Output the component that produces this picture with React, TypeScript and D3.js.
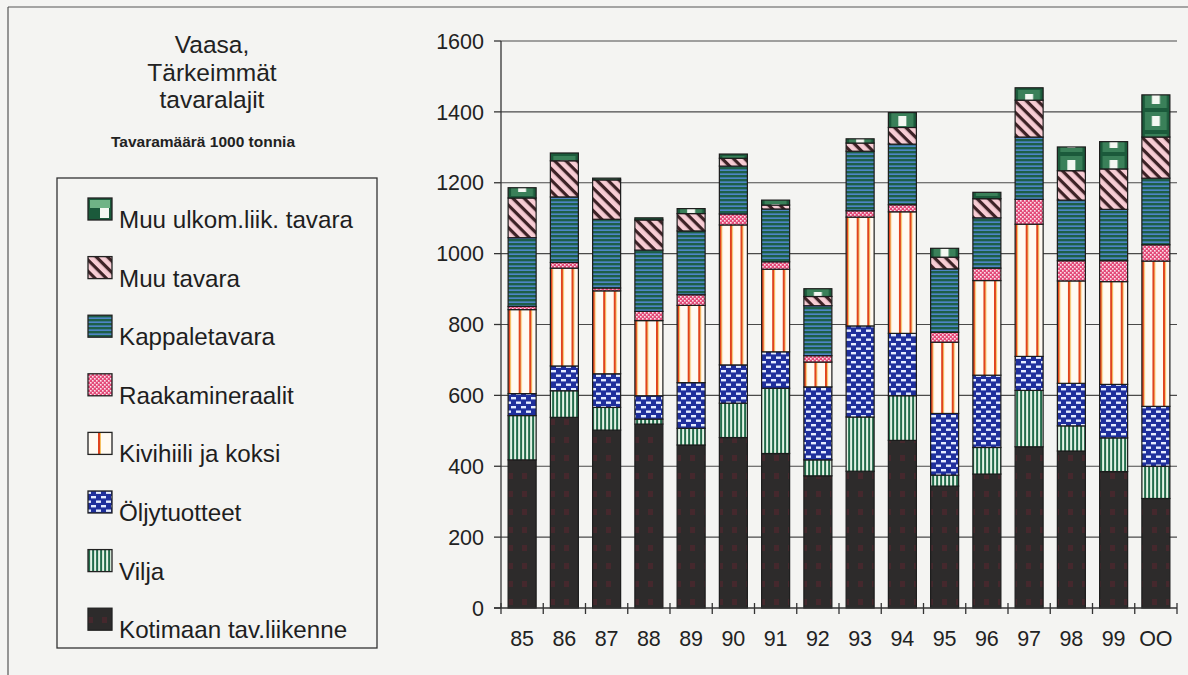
import React from "react";
import * as d3 from "d3";

const years = ["85", "86", "87", "88", "89", "90", "91", "92", "93", "94", "95", "96", "97", "98", "99", "OO"];

const kotimaan = [418, 538, 502, 519, 460, 481, 436, 373, 386, 473, 344, 378, 455, 443, 385, 309];
const vilja = [125, 75, 64, 14, 47, 97, 184, 45, 153, 126, 31, 75, 159, 71, 95, 91];
const oljy = [62, 70, 95, 66, 129, 108, 103, 206, 257, 176, 174, 204, 96, 120, 151, 169];
const kivihiili = [237, 276, 234, 212, 218, 395, 233, 70, 307, 343, 201, 267, 373, 289, 290, 410];
const raaka = [9, 16, 8, 26, 30, 31, 21, 18, 18, 20, 28, 35, 70, 57, 59, 46];
const kappale = [194, 185, 194, 173, 180, 135, 149, 141, 168, 171, 179, 142, 176, 171, 145, 188];
const muuTavara = [112, 102, 111, 85, 49, 22, 11, 26, 23, 47, 33, 54, 104, 83, 114, 116];
const muuUlkom = [29, 22, 5, 6, 14, 12, 14, 22, 12, 42, 25, 18, 35, 67, 77, 119];

const yTicks = [0, 200, 400, 600, 800, 1000, 1200, 1400, 1600];

const seriesKeys = ["kot", "vil", "olj", "kiv", "raa", "kap", "muu", "ulk"];
const seriesLabels: Record<string, string> = {
  kot: "Kotimaan tav.liikenne",
  vil: "Vilja",
  olj: "Öljytuotteet",
  kiv: "Kivihiili ja koksi",
  raa: "Raakamineraalit",
  kap: "Kappaletavara",
  muu: "Muu tavara",
  ulk: "Muu ulkom.liik. tavara",
};
const seriesData: Record<string, number[]> = {
  kot: kotimaan,
  vil: vilja,
  olj: oljy,
  kiv: kivihiili,
  raa: raaka,
  kap: kappale,
  muu: muuTavara,
  ulk: muuUlkom,
};

const FONT = "'Liberation Sans', Arial, Helvetica, sans-serif";

export default function App() {
  const W = 1188;
  const H = 675;
  const x = d3
    .scaleBand<string>()
    .domain(years)
    .range([501, 1177])
    .paddingInner(0.337)
    .paddingOuter(0.337 / 2);
  const y = d3.scaleLinear().domain([0, 1600]).range([608, 41]);
  const step = x.step();
  const bw = x.bandwidth();
  const x0 = x(years[0]) as number;

  const rows = years.map((yr, i) => {
    const r: any = { year: yr };
    seriesKeys.forEach((k) => (r[k] = seriesData[k][i]));
    return r;
  });
  const stacked = d3.stack<any>().keys(seriesKeys)(rows);

  const legendOrder = [...seriesKeys].reverse();
  const legendX = 57;
  const legendY = 178;
  const legendW = 320;
  const legendH = 470;

  return (
    <svg
      width={W}
      height={H}
      style={{ position: "absolute", left: 0, top: 0, background: "#f4f4f2" }}
      fontFamily={FONT}
    >
      <defs>
        <pattern id="p-kot" patternUnits="userSpaceOnUse" width={14} height={18}>
          <rect width={14} height={18} fill="#2d2b2b" />
          <rect x={4} y={5} width={5} height={6} fill="#45282d" />
        </pattern>
        <pattern id="p-vil" patternUnits="userSpaceOnUse" width={4} height={4} x={x0}>
          <rect width={4} height={4} fill="#e4f3e6" />
          <rect x={0} width={2} height={4} fill="#226b4a" />
        </pattern>
        <pattern id="p-olj" patternUnits="userSpaceOnUse" width={10} height={9}>
          <rect width={10} height={9} fill="#1f2f9c" />
          <rect x={1} y={1} width={5} height={2.4} fill="#e4ecff" />
          <rect x={6} y={5.5} width={5} height={2.4} fill="#e4ecff" />
          <rect x={-4} y={5.5} width={5} height={2.4} fill="#e4ecff" />
        </pattern>
        <pattern id="p-kiv" patternUnits="userSpaceOnUse" width={step / 4} height={10} x={x0}>
          <rect width={step / 4} height={10} fill="#fffaf2" />
          <rect x={0} width={2} height={10} fill="#e0441e" />
          <rect x={2} width={1} height={10} fill="#f5c060" />
        </pattern>
        <pattern id="p-raa" patternUnits="userSpaceOnUse" width={4} height={4}>
          <rect width={4} height={4} fill="#e34a78" />
          <rect x={0} y={0} width={1.6} height={1.6} fill="#fbe0ea" />
          <rect x={2} y={2} width={1.6} height={1.6} fill="#fbe0ea" />
        </pattern>
        <pattern id="p-kap" patternUnits="userSpaceOnUse" width={4} height={4}>
          <rect width={4} height={4} fill="#1d5f48" />
          <rect y={1.5} width={4} height={1.3} fill="#5a8ee4" />
        </pattern>
        <pattern
          id="p-muu"
          patternUnits="userSpaceOnUse"
          width={8}
          height={8}
          patternTransform="rotate(45)"
        >
          <rect width={8} height={8} fill="#f7ccd4" />
          <rect y={0} width={8} height={3.2} fill="#3d2226" />
        </pattern>
        <pattern id="p-ulk" patternUnits="userSpaceOnUse" width={step} height={22} x={x0}>
          <rect width={step} height={22} fill="#1b5a3b" />
          <rect x={3} y={2} width={bw - 6} height={18} fill="#4f9a6c" opacity={0.6} />
          <rect x={bw / 2 - 4} y={6} width={8} height={10} fill="#f4f8f2" />
        </pattern>
        <pattern id="l-ulk" patternUnits="userSpaceOnUse" width={24} height={22} x={88} y={0}>
          <rect width={24} height={22} fill="#1b5a3b" />
          <rect x={2} y={2} width={20} height={8} fill="#6fb486" />
          <rect x={12} y={10} width={9} height={10} fill="#f4f8f2" />
        </pattern>
        <pattern id="l-kiv" patternUnits="userSpaceOnUse" width={24} height={10} x={88}>
          <rect width={24} height={10} fill="#fffaf2" />
          <rect x={10} width={2} height={10} fill="#e0441e" />
          <rect x={12} width={1} height={10} fill="#f5c060" />
        </pattern>
      </defs>

      {/* outer frame */}
      <line x1={8} y1={7} x2={W} y2={7} stroke="#555" strokeWidth={1.2} />
      <line x1={8} y1={7} x2={8} y2={H} stroke="#555" strokeWidth={1.2} />

      {/* title */}
      <g fill="#222" textAnchor="middle">
        <text x={212} y={53} fontSize={24.5}>Vaasa,</text>
        <text x={212} y={81} fontSize={24.5}>Tärkeimmät</text>
        <text x={212} y={108} fontSize={24.5}>tavaralajit</text>
        <text x={203} y={147} fontSize={15.5} fontWeight="bold">Tavaramäärä 1000 tonnia</text>
      </g>

      {/* legend */}
      <rect x={legendX} y={legendY} width={legendW} height={legendH} fill="none" stroke="#333" strokeWidth={1.3} />
      {legendOrder.map((k, i) => {
        const base = 228 + i * 58.6;
        const fill = k === "ulk" ? "url(#l-ulk)" : k === "kiv" ? "url(#l-kiv)" : `url(#p-${k})`;
        return (
          <g key={k}>
            <rect x={88} y={base - 30} width={24} height={22} fill={fill} stroke="#222" strokeWidth={1.3} />
            <text x={119} y={base} fontSize={24.2} fill="#1e1e1e">
              {seriesLabels[k]}
            </text>
          </g>
        );
      })}

      {/* gridlines */}
      {yTicks.slice(1).map((t) => (
        <line key={t} x1={501} x2={1177} y1={y(t)} y2={y(t)} stroke="#4a4a4a" strokeWidth={1.2} />
      ))}

      {/* bars */}
      {stacked.map((s) => (
        <g key={s.key}>
          {s.map((d, i) => (
            <rect
              key={i}
              x={x(years[i])}
              width={bw}
              y={y(d[1])}
              height={y(d[0]) - y(d[1])}
              fill={`url(#p-${s.key})`}
              stroke="#1c1c1c"
              strokeWidth={1.2}
            />
          ))}
        </g>
      ))}

      {/* y axis */}
      <line x1={501} x2={501} y1={y(0)} y2={y(1600)} stroke="#333" strokeWidth={1.3} />
      {yTicks.map((t) => (
        <g key={t}>
          <line x1={494} x2={501} y1={y(t)} y2={y(t)} stroke="#333" strokeWidth={1.3} />
          <text x={484} y={y(t)} dy="0.36em" textAnchor="end" fontSize={21.5} fill="#222">
            {t}
          </text>
        </g>
      ))}

      {/* x axis */}
      <line x1={494} x2={1177} y1={y(0)} y2={y(0)} stroke="#333" strokeWidth={1.3} />
      {d3.range(years.length + 1).map((k) => (
        <line
          key={k}
          x1={501 + k * step}
          x2={501 + k * step}
          y1={y(0) - 5}
          y2={y(0) + 6}
          stroke="#333"
          strokeWidth={1.3}
        />
      ))}
      {years.map((yr) => (
        <text
          key={yr}
          x={(x(yr) as number) + bw / 2}
          y={646}
          textAnchor="middle"
          fontSize={21.5}
          fill="#222"
        >
          {yr}
        </text>
      ))}
    </svg>
  );
}
